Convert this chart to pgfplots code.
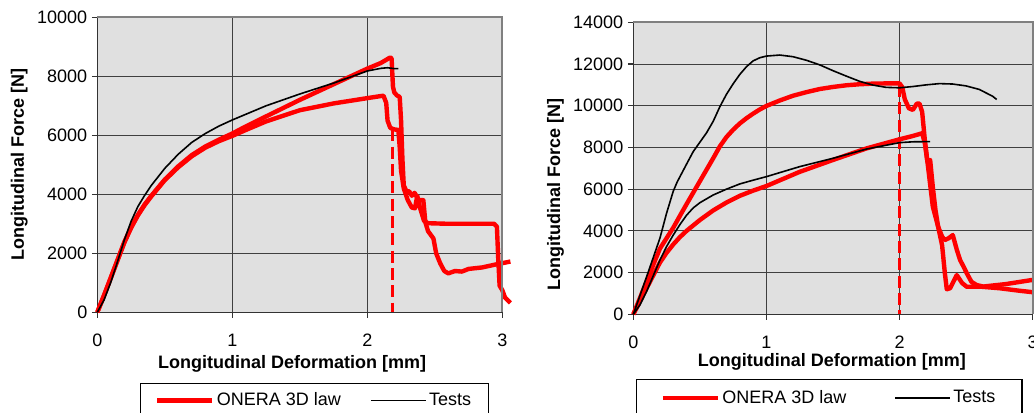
\documentclass[border=0pt]{standalone}
\usepackage{pgfplots}
\pgfplotsset{compat=1.18}
\usepackage{fontspec}
\setmainfont{Liberation Sans}
\definecolor{plotbg}{RGB}{224,224,224}
\definecolor{onerared}{RGB}{255,0,0}

\pgfplotsset{
  excel/.style={
    scale only axis, clip=false,
    xmin=0, xmax=3, ymin=0,
    xtick={0,1,2,3}, grid=major,
    major grid style={black!75, line width=0.7pt},
    axis background/.style={fill=plotbg},
    axis x line*=bottom, axis y line*=left,
    axis line style={black!80, line width=1pt},
    tick align=outside, major tick length=4pt,
    tick style={black!80, line width=0.8pt},
    font=\fontsize{13.5}{16}\selectfont,
    /pgf/number format/assume math mode=true,
    /pgf/number format/1000 sep={},
    scaled y ticks=false,
    xticklabel style={yshift=-9pt},
    label style={font=\fontsize{13.5}{16}\selectfont\bfseries},
    legend columns=2,
    legend cell align=left,
    legend image code/.code={\draw[##1] (0pt,0pt) -- (41pt,0pt);},
    after end axis/.code={\draw[gray, line width=1.3pt] (rel axis cs:0,1) -- (rel axis cs:1,1) -- (rel axis cs:1,0);},
  },
  oneraline/.style={onerared, line width=3.3pt, line join=round, no marks},
  testline/.style={black, line width=1.2pt, line join=round, no marks},
  cutline/.style={onerared, line width=2.2pt, dash pattern=on 9pt off 4pt, forget plot},
}

\begin{document}
\begin{tikzpicture}
\path[use as bounding box] (0,0) rectangle (775.5pt,309pt);

% left chart
\begin{axis}[excel,
  at={(72.98pt,74.78pt)}, anchor=south west,
  width=303.75pt, height=221.25pt,
  ymax=10000, ytick={0,2000,4000,6000,8000,10000},
  xlabel={Longitudinal Deformation [mm]},
  ylabel={Longitudinal Force [N]},
  xlabel style={at={(axis description cs:0.481,-0.175)}, anchor=center},
  ylabel style={at={(axis description cs:-0.193,0.5)}, anchor=center, rotate=0},
  legend style={at={(axis description cs:0.105,-0.2397)}, anchor=north west,
    draw=black, line width=0.8pt, inner xsep=11pt, inner ysep=5pt,
    nodes={inner sep=2pt},
    /tikz/every even column/.append style={column sep=20pt}},
]
\addplot[oneraline] coordinates {
(0,0)(0.05,580)(0.1,1180)(0.15,1780)(0.2,2380)(0.25,2880)(0.3,3300)(0.35,3650)
(0.4,3950)(0.5,4500)(0.6,4950)(0.7,5330)(0.8,5620)(0.9,5850)(1.0,6060)(1.1,6300)
(1.25,6640)(1.5,7200)(1.75,7730)(2.0,8260)(2.1,8450)(2.17,8640)(2.18,8600)
(2.19,7650)(2.2,7450)(2.22,7350)(2.24,7300)(2.25,6500)(2.26,5200)(2.27,4300)
(2.29,4100)(2.31,4100)(2.33,3950)(2.35,4050)(2.38,3800)(2.415,3800)(2.43,3050)
(2.45,2750)(2.49,2500)(2.51,2000)(2.54,1660)(2.57,1400)(2.60,1320)(2.65,1400)
(2.70,1380)(2.75,1470)(2.85,1520)(2.95,1620)(3.06,1720)};
\addlegendentry{ONERA 3D law}
\addplot[oneraline, forget plot] coordinates {
(0,0)(0.05,570)(0.1,1160)(0.15,1760)(0.2,2360)(0.25,2860)(0.3,3280)(0.35,3630)
(0.4,3930)(0.5,4480)(0.6,4920)(0.7,5290)(0.8,5580)(0.9,5800)(1.0,5980)(1.1,6180)
(1.25,6470)(1.5,6850)(1.75,7080)(2.0,7260)(2.1,7330)(2.12,7340)(2.14,7100)
(2.15,6500)(2.17,6250)(2.20,6200)(2.23,6180)(2.24,5600)(2.25,4800)(2.27,4200)
(2.30,3800)(2.33,3550)(2.353,3525)(2.37,3950)(2.39,3550)(2.42,3100)(2.45,3020)
(2.6,3000)(2.8,3000)(2.94,3000)(2.96,2900)(2.97,1800)(2.98,900)(3.0,750)
(3.02,500)(3.06,320)};
\addplot[cutline] coordinates {(2.185,6200)(2.185,0)};
\addplot[testline] coordinates {
(0,0)(0.05,420)(0.1,1020)(0.15,1720)(0.2,2450)(0.25,3080)(0.3,3580)(0.35,3960)
(0.4,4300)(0.5,4880)(0.6,5360)(0.7,5760)(0.8,6060)(0.9,6310)(1.0,6520)(1.25,7000)
(1.5,7400)(1.75,7770)(2.0,8180)(2.1,8270)(2.15,8290)(2.2,8260)(2.23,8260)};
\addlegendentry{Tests}
\end{axis}

% right chart
\begin{axis}[excel,
  at={(474.98pt,73.28pt)}, anchor=south west,
  width=299.5pt, height=219pt,
  ymax=14000, ytick={0,2000,4000,6000,8000,10000,12000,14000},
  xlabel={Longitudinal Deformation [mm]},
  ylabel={Longitudinal Force [N]},
  xlabel style={at={(axis description cs:0.497,-0.163)}, anchor=center},
  ylabel style={at={(axis description cs:-0.195,0.409)}, anchor=center, rotate=0},
  legend style={at={(axis description cs:0.007,-0.2216)}, anchor=north west,
    draw=black, line width=0.8pt, inner xsep=18pt, inner ysep=6pt,
    nodes={inner sep=2pt},
    /tikz/every even column/.append style={column sep=34pt}},
]
\addplot[oneraline] coordinates {
(0,0)(0.05,780)(0.1,1580)(0.15,2380)(0.2,3150)(0.25,3650)(0.3,4150)(0.35,4720)
(0.4,5280)(0.45,5830)(0.5,6380)(0.55,6930)(0.6,7480)(0.65,8050)(0.7,8500)
(0.75,8850)(0.8,9150)(0.85,9400)(0.9,9620)(0.95,9820)(1.0,9990)(1.1,10250)
(1.2,10480)(1.3,10650)(1.4,10800)(1.5,10900)(1.6,10980)(1.7,11030)(1.8,11060)
(1.9,11070)(2.0,11070)(2.02,10900)(2.04,10300)(2.07,9880)(2.10,9800)(2.13,10100)
(2.15,10100)(2.17,9700)(2.19,8360)(2.22,6760)(2.25,5160)(2.29,4200)(2.32,3300)
(2.34,2000)(2.355,1200)(2.38,1250)(2.43,1880)(2.47,1500)(2.505,1320)(2.6,1330)
(2.75,1250)(2.9,1130)(3.0,1060)};
\addlegendentry{ONERA 3D law}
\addplot[oneraline, forget plot] coordinates {
(0,0)(0.05,620)(0.1,1250)(0.15,1870)(0.2,2480)(0.25,2950)(0.3,3350)(0.35,3700)
(0.4,4000)(0.5,4520)(0.6,4980)(0.7,5360)(0.8,5680)(0.9,5930)(1.0,6150)(1.25,6830)
(1.5,7400)(1.75,7950)(2.0,8390)(2.1,8550)(2.17,8680)(2.19,8200)(2.21,7300)
(2.23,7400)(2.25,6100)(2.27,5000)(2.29,4200)(2.32,3720)(2.34,3560)(2.37,3650)
(2.40,3800)(2.43,3100)(2.455,2600)(2.48,2300)(2.505,1970)(2.54,1560)(2.58,1400)
(2.63,1330)(2.7,1380)(2.8,1450)(2.9,1550)(3.0,1650)};
\addplot[cutline] coordinates {(2.0,11000)(2.0,0)};
\addplot[testline] coordinates {
(0,0)(0.1,1800)(0.2,3650)(0.25,4850)(0.3,5900)(0.33,6350)(0.4,7200)(0.45,7800)
(0.5,8250)(0.55,8700)(0.6,9250)(0.65,9950)(0.7,10550)(0.75,11050)(0.8,11500)
(0.85,11870)(0.9,12150)(0.95,12300)(1.0,12380)(1.1,12430)(1.2,12350)(1.3,12180)
(1.4,11960)(1.5,11680)(1.6,11420)(1.7,11170)(1.8,10990)(1.9,10880)(2.0,10860)
(2.1,10920)(2.2,11000)(2.3,11060)(2.4,11040)(2.5,10950)(2.6,10780)(2.7,10450)
(2.73,10300)};
\addlegendentry{Tests}
\addplot[testline, forget plot] coordinates {
(0,0)(0.05,450)(0.1,1100)(0.15,1850)(0.2,2600)(0.25,3250)(0.3,3800)(0.35,4300)
(0.4,4750)(0.45,5100)(0.5,5350)(0.6,5720)(0.7,6000)(0.8,6250)(0.9,6430)(1.0,6600)
(1.25,7080)(1.5,7480)(1.75,7920)(2.0,8230)(2.1,8270)(2.23,8280)};
\end{axis}
\end{tikzpicture}
\end{document}
